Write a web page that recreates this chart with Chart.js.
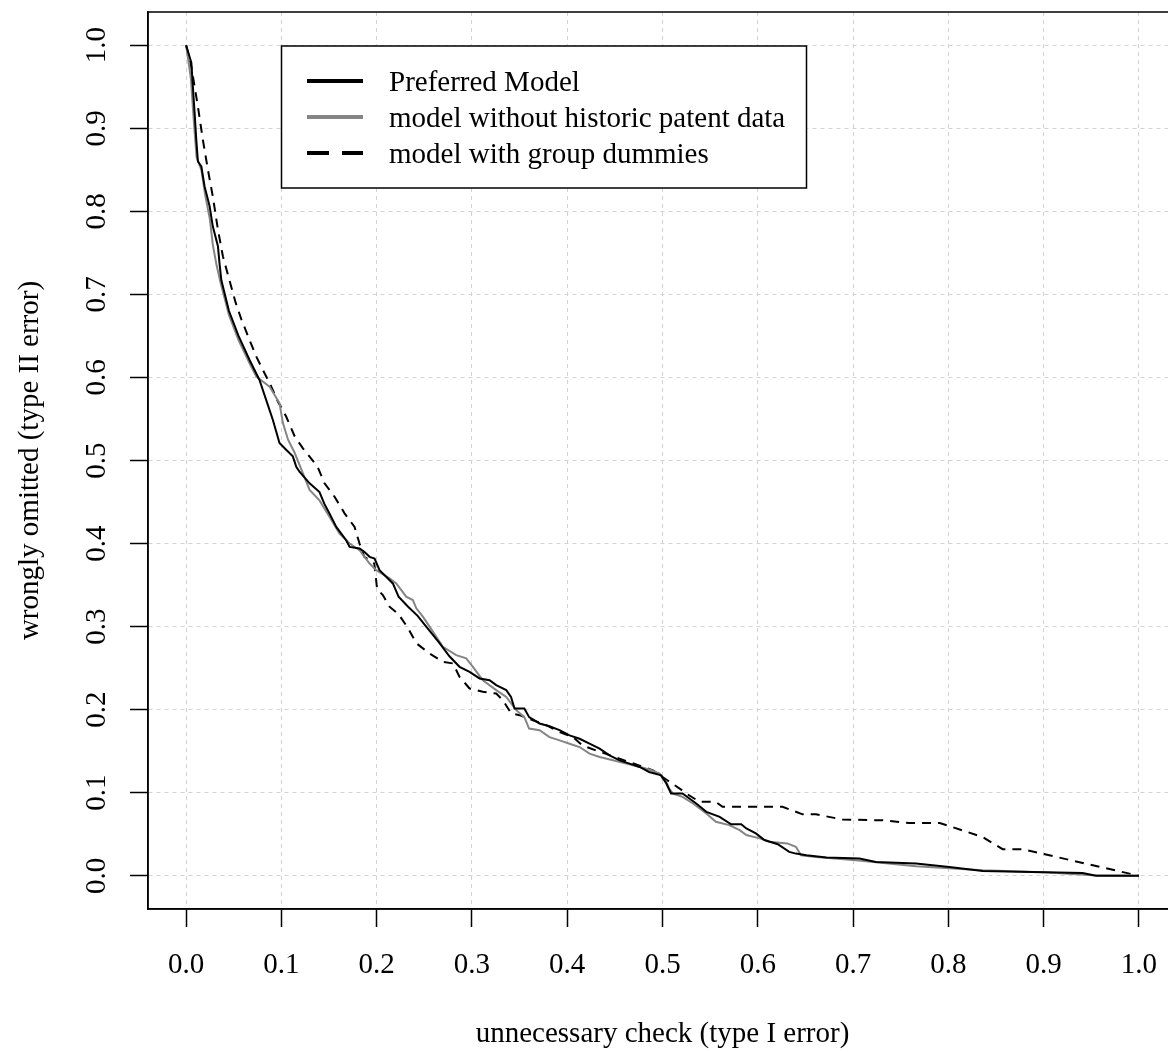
<!DOCTYPE html>
<html>
<head>
<meta charset="utf-8">
<title>Type I / type II error trade-off</title>
<script src="https://cdn.jsdelivr.net/npm/chart.js@4.4.1/dist/chart.umd.min.js"></script>
<style>
  html, body { margin: 0; padding: 0; background: #fff; overflow: hidden; }
  #wrap { width: 1180px; height: 1054px; }
</style>
</head>
<body>
<div id="wrap"><canvas id="errorChart" width="1180" height="1054"></canvas></div>
<script>
const xTicks = [0, 0.1, 0.2, 0.3, 0.4, 0.5, 0.6, 0.7, 0.8, 0.9, 1.0];
const yTicks = [0, 0.1, 0.2, 0.3, 0.4, 0.5, 0.6, 0.7, 0.8, 0.9, 1.0];

const seriesNames = [
  "Preferred Model",
  "model without historic patent data",
  "model with group dummies"
];

// Preferred Model (black, solid)
const preferredX = [0, .0055, .0071, .0089, .0107, .0124, .016, .0194, .0247, .028, .0334, .035, .037, .045, .055,
  .0666, .077, .084, .091, .098, .105, .112, .1156, .119, .1296, .140, .145, .1506, .1576, .168, .1716, .182, .187,
  .1926, .1978, .203, .210, .217, .223, .233, .243, .2535, .266, .2766, .287, .2975, .308, .3185, .3255, .336, .341,
  .3447, .355, .360, .3709, .3814, .3919, .4024, .413, .4234, .434, .4444, .455, .4654, .476, .486, .4986, .504, .509,
  .521, .5354, .546, .560, .572, .5826, .588, .598, .607, .621, .633, .640, .651, .672, .7067, .724, .766, .801, .836,
  .8886, .941, .955, 1.0];
const preferredY = [1.0, .979, .950, .919, .886, .860, .854, .830, .806, .782, .758, .738, .717, .68, .65,
  .621, .597, .573, .549, .521, .513, .505, .4925, .4865, .4725, .462, .448, .436, .420, .404, .396, .394, .390,
  .384, .382, .368, .360, .352, .336, .324, .313, .298, .280, .264, .2516, .2455, .2376, .2355, .2295, .2235, .2154,
  .2014, .2014, .191, .1834, .180, .1753, .169, .165, .159, .153, .145, .139, .135, .131, .125, .121, .111, .099,
  .099, .087, .077, .071, .062, .062, .057, .051, .043, .038, .0287, .0267, .0247, .0219, .0207, .0166, .0147, .0106, .0058,
  .0046, .0034, 0, 0];

// model without historic patent data (grey, solid)
const noHistoricX = [0, .005, .008, .011, .016, .02, .025, .028, .032, .036, .045, .055, .0666, .0737, .0876, .098,
  .1016, .107, .114, .1226, .1296, .140, .1506, .161, .1716, .182, .1926, .1996, .2135, .2206, .231, .238, .2416,
  .2485, .259, .2695, .2835, .294, .301, .3114, .3255, .336, .3465, .355, .360, .371, .3814, .392, .4024, .413, .4234,
  .434, .448, .462, .476, .4864, .497, .500, .504, .507, .511, .521, .532, .546, .556, .570, .581, .588, .602, .612,
  .631, .640, .6455, .661, .703, .766, .836, .905, .951, 1.0];
const noHistoricY = [1.0, .96, .91, .865, .85, .82, .79, .76, .735, .715, .675, .645, .617, .601, .589, .569,
  .545, .525, .509, .4846, .4645, .452, .432, .412, .400, .392, .376, .368, .358, .352, .336, .332, .322,
  .312, .294, .2756, .2657, .2617, .2516, .2355, .2235, .2154, .1994, .191, .1773, .1753, .167, .163, .159, .155, .147,
  .143, .139, .135, .131, .128, .123, .117, .113, .105, .099, .095, .087, .075, .065, .061, .055, .049, .045, .041,
  .039, .035, .0247, .0227, .0187, .0114, .0066, .0038, .0006, 0];

// model with group dummies (black, dashed)
const dummiesX = [0, .0055, .0124, .0176, .0229, .028, .0334, .0386, .0439, .052, .058, .0666, .0737, .0806, .0894,
  .0963, .105, .114, .1226, .1296, .138, .1453, .1558, .1663, .1768, .182, .187, .1975, .2005, .2065, .2135, .223,
  .233, .2416, .2555, .2695, .28, .287, .2975, .3114, .3255, .3325, .3412, .350, .364, .378, .392, .406, .416, .43,
  .46, .49, .505, .518, .525, .539, .556, .563, .626, .647, .661, .689, .731, .759, .791, .836, .857, .878, 1.0];
const dummiesY = [1.0, .974, .926, .886, .850, .818, .778, .746, .7235, .69, .67, .645, .625, .609, .589,
  .571, .553, .529, .5147, .5046, .4925, .4725, .4564, .4364, .420, .400, .384, .376, .345, .338, .324, .315,
  .298, .280, .2677, .2576, .2557, .2395, .2255, .2215, .2195, .2114, .1954, .1934, .1873, .1813, .173, .167, .157, .151,
  .139, .127, .115, .105, .099, .089, .089, .083, .083, .074, .074, .0677, .0668, .0636, .0636, .0467, .032, .032, 0];

const toPoints = (xs, ys) => xs.map((x, i) => ({ x: x, y: ys[i] }));

const FONT = "'Liberation Serif', 'DejaVu Serif', serif";
Chart.defaults.font.family = FONT;
Chart.defaults.font.size = 29;
Chart.defaults.color = "#000";

// box round the plot region plus the legend drawn inside it
const frameAndLegend = {
  id: "frameAndLegend",
  afterDraw(chart) {
    const ctx = chart.ctx;
    const a = chart.chartArea;
    ctx.save();
    ctx.strokeStyle = "#000";
    ctx.lineWidth = 1.5;
    ctx.strokeRect(a.left, a.top, a.right - a.left, a.bottom - a.top);

    ctx.fillStyle = "#fff";
    ctx.fillRect(281.5, 46, 525, 142);
    ctx.strokeRect(281.5, 46, 525, 142);

    chart.data.datasets.forEach((ds, i) => {
      const y = 81 + i * 36;
      ctx.beginPath();
      ctx.setLineDash(ds.borderDash && ds.borderDash.length ? [22, 13] : []);
      ctx.lineWidth = 4;
      ctx.strokeStyle = ds.borderColor;
      ctx.moveTo(307, y);
      ctx.lineTo(363, y);
      ctx.stroke();
      ctx.setLineDash([]);
      ctx.fillStyle = "#000";
      ctx.font = "29px " + FONT;
      ctx.textBaseline = "middle";
      ctx.fillText(ds.label, 389, y + 2);
    });
    ctx.restore();
  }
};

const gridOpts = { color: "#d3d3d3", lineWidth: 1, tickColor: "#000", tickLength: 18, tickWidth: 1.5 };
const borderOpts = { display: true, color: "#000", width: 1.5, dash: [4, 4] };

new Chart(document.getElementById("errorChart"), {
  type: "scatter",
  data: {
    datasets: [
      { label: seriesNames[0], data: toPoints(preferredX, preferredY), borderColor: "#000", borderWidth: 2, borderDash: [] },
      { label: seriesNames[1], data: toPoints(noHistoricX, noHistoricY), borderColor: "#858585", borderWidth: 2, borderDash: [] },
      { label: seriesNames[2], data: toPoints(dummiesX, dummiesY), borderColor: "#000", borderWidth: 2, borderDash: [9, 7] }
    ]
  },
  options: {
    responsive: false,
    animation: false,
    events: [],
    showLine: true,
    elements: { point: { radius: 0 }, line: { tension: 0, fill: false } },
    layout: { padding: { top: 12, right: 3, left: 0, bottom: 0 } },
    plugins: { legend: { display: false }, tooltip: { enabled: false } },
    scales: {
      x: {
        type: "linear",
        min: -0.04,
        max: 1.04,
        afterBuildTicks: s => { s.ticks = xTicks.map(v => ({ value: v })); },
        afterFit: s => { s.height = 145; s.paddingLeft = 0; s.paddingRight = 0; },
        ticks: { padding: 21, autoSkip: false, maxRotation: 0, callback: v => v.toFixed(1) },
        grid: gridOpts,
        border: borderOpts,
        title: { display: true, text: "unnecessary check (type I error)", padding: { top: 0, bottom: 2 } }
      },
      y: {
        type: "linear",
        min: -0.04,
        max: 1.04,
        afterBuildTicks: s => { s.ticks = yTicks.map(v => ({ value: v })); },
        afterFit: s => { s.width = 148; s.paddingTop = 0; s.paddingBottom = 0; },
        ticks: { padding: 14, autoSkip: false, minRotation: 90, maxRotation: 90, crossAlign: "center",
          callback: v => v.toFixed(1) },
        grid: gridOpts,
        border: borderOpts,
        title: { display: true, text: "wrongly omitted (type II error)", padding: { top: 13, bottom: 0 } }
      }
    }
  },
  plugins: [frameAndLegend]
});
</script>
</body>
</html>
